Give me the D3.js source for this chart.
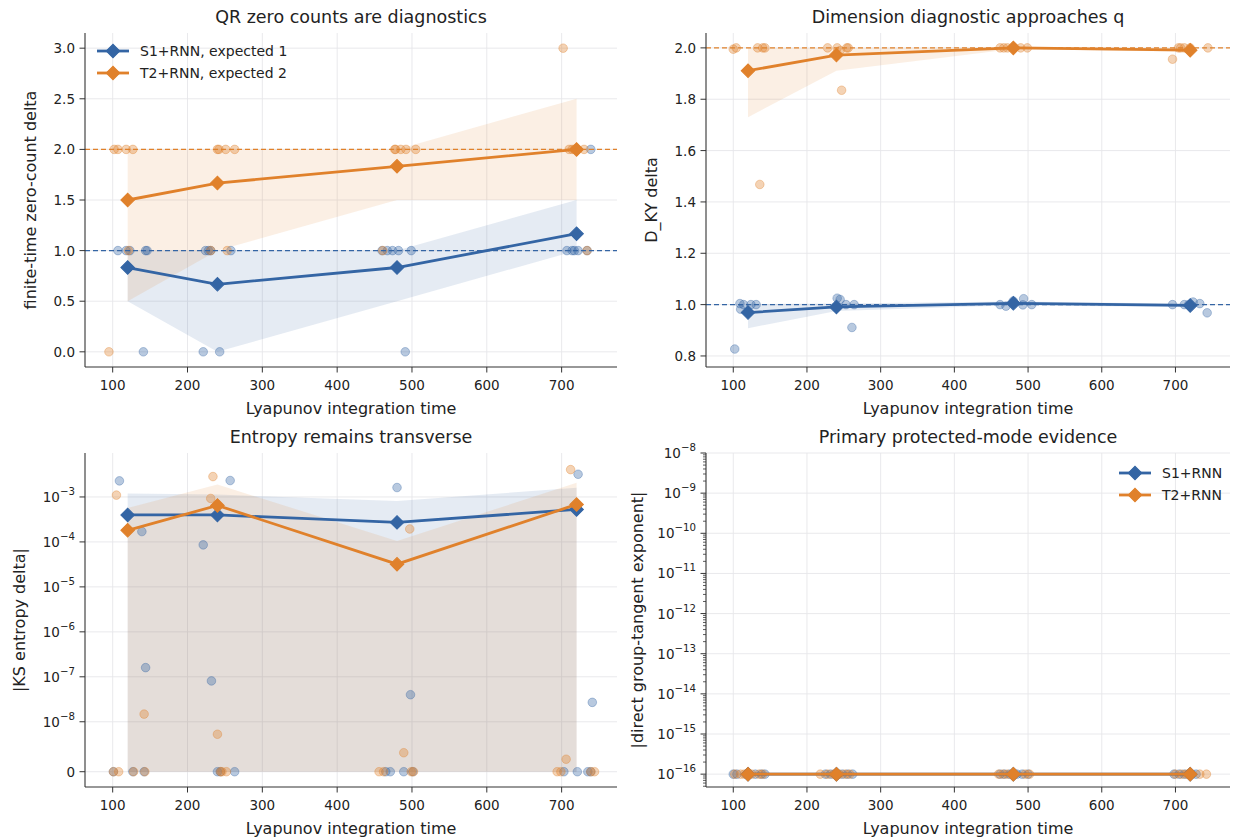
<!DOCTYPE html>
<html>
<head>
<meta charset="utf-8">
<script src="https://cdn.jsdelivr.net/npm/d3@7"></script>
<style>
  body { margin: 0; background: #fff; }
  text { font-family: "DejaVu Sans", sans-serif; fill: #222; }
</style>
</head>
<body>
<div id="chart"></div>
<script>
//---------------- data ----------------//
var T = [120, 240, 480, 720];
var xTicks = [100, 200, 300, 400, 500, 600, 700];

// QR zero counts
var qrS1Mean = [0.833, 0.667, 0.833, 1.167];
var qrS1Lo = [0.5, 0.0, 0.5, 1.0];
var qrS1Hi = [1.0, 1.0, 1.0, 1.5];
var qrT2Mean = [1.5, 1.667, 1.833, 2.0];
var qrT2Lo = [0.5, 1.0, 1.5, 1.5];
var qrT2Hi = [2.0, 2.0, 2.0, 2.5];
var qrS1X = [107, 118, 123, 141, 144, 146, 221, 224, 228, 231, 243, 258, 460, 467, 474, 482, 491, 499, 707, 714, 717, 722, 734, 739];
var qrS1Y = [1, 1, 1, 0, 1, 1, 0, 1, 1, 1, 0, 1, 1, 1, 1, 1, 0, 1, 1, 1, 1, 1, 1, 2];
var qrT2X = [95, 102, 107, 118, 121, 127, 231, 240, 242, 251, 253, 263, 461, 477, 478, 485, 492, 505, 702, 710, 714, 717, 730, 734];
var qrT2Y = [0, 2, 2, 2, 1, 2, 1, 2, 2, 2, 1, 2, 1, 2, 2, 2, 2, 2, 3, 2, 2, 2, 2, 1];

// D_KY
var dkyS1Mean = [0.969, 0.991, 1.005, 0.997];
var dkyS1Lo = [0.908, 0.975, 0.998, 0.99];
var dkyS1Hi = [1.002, 1.004, 1.012, 1.003];
var dkyT2Mean = [1.911, 1.972, 2.0, 1.991];
var dkyT2Lo = [1.730, 1.911, 1.996, 1.985];
var dkyT2Hi = [2.0, 2.0, 2.002, 2.0];
var dkyS1X = [102, 109, 110, 114, 124, 131, 239, 241, 245, 253, 261, 264, 462, 470, 480, 493, 494, 505, 696, 712, 718, 724, 733, 743];
var dkyS1Y = [0.827, 1.004, 0.982, 1.0, 1.0, 1.0, 0.99, 1.025, 1.02, 1.0, 0.911, 1.0, 1.0, 0.994, 1.014, 0.999, 1.023, 1.0, 1.0, 1.0, 1.0, 1.01, 1.004, 0.968];
var dkyT2X = [100, 104, 133, 136, 140, 143, 228, 241, 245, 247, 254, 256, 462, 467, 472, 481, 490, 499, 696, 704, 707, 712, 720, 744];
var dkyT2Y = [1.995, 2.0, 2.0, 1.468, 2.0, 2.0, 2.0, 2.0, 1.99, 1.835, 2.0, 2.0, 2.0, 2.0, 2.0, 2.0, 2.0, 2.0, 1.956, 2.0, 2.0, 2.0, 2.0, 2.0];

// KS entropy
var ksS1Mean = [3.98e-4, 3.98e-4, 2.72e-4, 5.28e-4];
var ksS1Lo = [0, 0, 0, 0];
var ksS1Hi = [1.19e-3, 1.13e-3, 8.1e-4, 1.6e-3];
var ksT2Mean = [1.81e-4, 6.49e-4, 3.2e-5, 6.82e-4];
var ksT2Lo = [0, 0, 0, 0];
var ksT2Hi = [5.7e-4, 1.89e-3, 1.05e-4, 2.06e-3];
var ksS1X = [101, 109, 127, 139, 142, 144, 221, 232, 240, 244, 257, 263, 465, 471, 480, 489, 498, 501, 703, 721, 722, 735, 739, 741];
var ksS1Y = [0, 2.28e-3, 0, 1.7e-4, 0, 1.6e-7, 8.6e-5, 8.1e-8, 0, 0, 2.32e-3, 0, 0, 0, 1.62e-3, 0, 4e-8, 0, 0, 0, 3.2e-3, 0, 0, 2.7e-8];
var ksT2X = [101, 105, 108, 128, 142, 143, 231, 234, 240, 244, 246, 252, 456, 462, 489, 497, 499, 502, 694, 699, 706, 712, 739, 744];
var ksT2Y = [0, 1.1e-3, 0, 0, 1.48e-8, 0, 9.27e-4, 2.84e-3, 7.5e-9, 0, 0, 0, 0, 0, 3.8e-9, 1.94e-4, 0, 0, 0, 0, 2.5e-9, 4.06e-3, 0, 0];

// protected mode exponent
var pmS1Mean = [1e-16, 1e-16, 1e-16, 1e-16];
var pmT2Mean = [1e-16, 1e-16, 1e-16, 1e-16];
var pmS1X = [100, 105, 118, 130, 138, 143, 225, 232, 240, 248, 255, 262, 462, 468, 475, 485, 492, 500, 698, 705, 712, 718, 722, 728];
var pmT2X = [102, 110, 115, 125, 135, 140, 218, 228, 236, 244, 252, 258, 460, 466, 472, 480, 496, 502, 700, 708, 715, 720, 733, 742];
var pmY = 1e-16;

var blue = '#3465a4', orange = '#e0812b';
var gridColor = '#e6e6ea';

//---------------- svg ----------------//
var svg = d3.select('#chart').append('svg')
            .attr('width', 1238)
            .attr('height', 840);

var xDomain = [63, 774];
var clipId = 0;

function diamond(sel, color) {
  sel.attr('d', d3.symbol(d3.symbolSquare, 92)())
     .attr('fill', color)
     .attr('stroke', color)
     .attr('stroke-width', 1);
}

function supLabel(t, base, exp) {
  t.append('tspan').text(base);
  t.append('tspan').attr('dy', -7).attr('font-size', '10.2px').text(exp);
}

function drawPanel(o) {
  var g = svg.append('g');
  var x = d3.scaleLinear().domain(xDomain).range([o.x0, o.x1]);
  var y = o.y;

  clipId++;
  g.append('clipPath').attr('id', 'c' + clipId).append('rect')
   .attr('x', o.x0).attr('y', o.y0).attr('width', o.x1 - o.x0).attr('height', o.y1 - o.y0);

  // grid
  g.selectAll('.gx').data(xTicks).enter().append('line')
   .attr('x1', d => x(d)).attr('x2', d => x(d))
   .attr('y1', o.y0).attr('y2', o.y1)
   .attr('stroke', gridColor).attr('stroke-width', 0.9);
  g.selectAll('.gy').data(o.yTicks).enter().append('line')
   .attr('x1', o.x0).attr('x2', o.x1)
   .attr('y1', d => y(d)).attr('y2', d => y(d))
   .attr('stroke', gridColor).attr('stroke-width', 0.9);

  var plot = g.append('g').attr('clip-path', 'url(#c' + clipId + ')');

  // bands
  o.series.forEach(function(s) {
    if (!s.lo) return;
    var area = d3.area()
      .x((d, i) => x(T[i]))
      .y0((d, i) => y(s.lo[i]))
      .y1((d, i) => y(s.hi[i]));
    plot.append('path').datum(T).attr('d', area)
      .attr('fill', s.color).attr('fill-opacity', 0.13);
  });

  // points
  o.series.forEach(function(s) {
    plot.selectAll(null).data(s.px).enter().append('circle')
      .attr('cx', d => x(d))
      .attr('cy', (d, i) => y(s.py[i]))
      .attr('r', 4.3)
      .attr('fill', s.color).attr('fill-opacity', 0.35)
      .attr('stroke', s.color).attr('stroke-opacity', 0.35).attr('stroke-width', 1);
  });

  // reference lines
  (o.refs || []).forEach(function(r) {
    g.append('line')
      .attr('x1', o.x0).attr('x2', o.x1)
      .attr('y1', y(r.v)).attr('y2', y(r.v))
      .attr('stroke', r.color).attr('stroke-width', 1.3)
      .attr('stroke-dasharray', '5,3');
  });

  // mean lines
  o.series.forEach(function(s) {
    var line = d3.line().x((d, i) => x(T[i])).y(d => y(d));
    plot.append('path').datum(s.mean).attr('d', line)
      .attr('fill', 'none').attr('stroke', s.color).attr('stroke-width', 2.8);
    plot.selectAll(null).data(s.mean).enter().append('path')
      .attr('transform', (d, i) => 'translate(' + x(T[i]) + ',' + y(d) + ') rotate(45)')
      .call(diamond, s.color);
  });

  // spines
  g.append('line').attr('x1', o.x0).attr('x2', o.x0).attr('y1', o.y0).attr('y2', o.y1)
   .attr('stroke', '#333').attr('stroke-width', 1.1);
  g.append('line').attr('x1', o.x0).attr('x2', o.x1).attr('y1', o.y1).attr('y2', o.y1)
   .attr('stroke', '#333').attr('stroke-width', 1.1);

  // x ticks
  g.selectAll('.tx').data(xTicks).enter().append('line')
   .attr('x1', d => x(d)).attr('x2', d => x(d))
   .attr('y1', o.y1).attr('y2', o.y1 + 5.5)
   .attr('stroke', '#333');
  g.selectAll('.lx').data(xTicks).enter().append('text')
   .attr('x', d => x(d)).attr('y', o.y1 + 23)
   .attr('text-anchor', 'middle').attr('font-size', '13.5px')
   .text(d => d);

  // y ticks
  g.selectAll('.ty').data(o.yTicks).enter().append('line')
   .attr('x1', o.x0 - 5.5).attr('x2', o.x0)
   .attr('y1', d => y(d)).attr('y2', d => y(d))
   .attr('stroke', '#333');
  (o.minor || []).forEach(function(v) {
    g.append('line').attr('x1', o.x0 - 3).attr('x2', o.x0)
     .attr('y1', y(v)).attr('y2', y(v)).attr('stroke', '#333').attr('stroke-width', 0.8);
  });
  g.selectAll('.ly').data(o.yTicks).enter().append('text')
   .attr('x', o.x0 - 10).attr('y', d => y(d) + 5)
   .attr('text-anchor', 'end').attr('font-size', '13.5px')
   .each(function(d) { o.yFormat(d3.select(this), d); });

  // labels
  g.append('text').attr('x', (o.x0 + o.x1) / 2).attr('y', o.y0 - 10)
   .attr('text-anchor', 'middle').attr('font-size', '17.5px').text(o.title);
  g.append('text').attr('x', (o.x0 + o.x1) / 2).attr('y', o.y1 + 47)
   .attr('text-anchor', 'middle').attr('font-size', '16px').text('Lyapunov integration time');
  g.append('text')
   .attr('transform', 'translate(' + o.ylabX + ',' + ((o.y0 + o.y1) / 2) + ') rotate(-90)')
   .attr('text-anchor', 'middle').attr('font-size', '16px').text(o.ylabel);

  // legend
  if (o.legend) {
    var lg = g.append('g');
    o.series.forEach(function(s, i) {
      var ly = o.legend.y + i * 22;
      var hx = o.legend.x;
      lg.append('line').attr('x1', hx).attr('x2', hx + 32).attr('y1', ly).attr('y2', ly)
        .attr('stroke', s.color).attr('stroke-width', 2.8);
      lg.append('path').attr('transform', 'translate(' + (hx + 16) + ',' + ly + ') rotate(45)')
        .call(diamond, s.color);
      lg.append('text').attr('x', hx + 43).attr('y', ly + 5)
        .attr('font-size', '14px').text(o.legend.names[i]);
    });
  }
}

function fixed1(t, d) { t.text(d3.format('.1f')(d)); }

//---------------- panel 1 ----------------//
drawPanel({
  x0: 85, x1: 617, y0: 33, y1: 367,
  y: d3.scaleLinear().domain([-0.15, 3.15]).range([367, 33]),
  yTicks: [0, 0.5, 1, 1.5, 2, 2.5, 3],
  yFormat: fixed1,
  title: 'QR zero counts are diagnostics',
  ylabel: 'finite-time zero-count delta', ylabX: 36,
  refs: [{ v: 1, color: blue }, { v: 2, color: orange }],
  series: [
    { mean: qrS1Mean, lo: qrS1Lo, hi: qrS1Hi, px: qrS1X, py: qrS1Y, color: blue },
    { mean: qrT2Mean, lo: qrT2Lo, hi: qrT2Hi, px: qrT2X, py: qrT2Y, color: orange }
  ],
  legend: { x: 97, y: 51, names: ['S1+RNN, expected 1', 'T2+RNN, expected 2'] }
});

//---------------- panel 2 ----------------//
drawPanel({
  x0: 706, x1: 1230, y0: 33, y1: 367,
  y: d3.scaleLinear().domain([0.757, 2.058]).range([367, 33]),
  yTicks: [0.8, 1.0, 1.2, 1.4, 1.6, 1.8, 2.0],
  yFormat: fixed1,
  title: 'Dimension diagnostic approaches q',
  ylabel: 'D_KY delta', ylabX: 657,
  refs: [{ v: 1, color: blue }, { v: 2, color: orange }],
  series: [
    { mean: dkyS1Mean, lo: dkyS1Lo, hi: dkyS1Hi, px: dkyS1X, py: dkyS1Y, color: blue },
    { mean: dkyT2Mean, lo: dkyT2Lo, hi: dkyT2Hi, px: dkyT2X, py: dkyT2Y, color: orange }
  ]
});

//---------------- panel 3 (symlog) ----------------//
var linthresh = 1e-8, linAdj = 1 / (1 - 0.1);
function symlog(v) {
  var a = Math.abs(v);
  if (a <= linthresh) return v / linthresh * linAdj;
  return Math.sign(v) * (linAdj + Math.log10(a / linthresh));
}
var ksScale = d3.scaleLinear().domain([symlog(-3.06e-9), symlog(9.5e-3)]).range([787, 453]);
drawPanel({
  x0: 85, x1: 617, y0: 453, y1: 787,
  y: v => ksScale(symlog(v)),
  yTicks: [0, 1e-8, 1e-7, 1e-6, 1e-5, 1e-4, 1e-3],
  yFormat: function(t, d) {
    if (d === 0) t.text('0');
    else supLabel(t, '10', '\u2212' + Math.round(-Math.log10(d)));
  },
  title: 'Entropy remains transverse',
  ylabel: '|KS entropy delta|', ylabX: 25,
  series: [
    { mean: ksS1Mean, lo: ksS1Lo, hi: ksS1Hi, px: ksS1X, py: ksS1Y, color: blue },
    { mean: ksT2Mean, lo: ksT2Lo, hi: ksT2Hi, px: ksT2X, py: ksT2Y, color: orange }
  ]
});

//---------------- panel 4 (log) ----------------//
var pmScale = d3.scaleLog().domain([Math.pow(10, -16.32), 1e-8]).range([787, 453]);
var pmTicks = d3.range(-16, -7).map(k => Math.pow(10, k));
var pmMinor = [];
d3.range(-17, -8).forEach(function(k) {
  for (var m = 2; m < 10; m++) {
    var v = m * Math.pow(10, k);
    if (v > pmScale.domain()[0] && v < 1e-8) pmMinor.push(v);
  }
});
drawPanel({
  x0: 706, x1: 1230, y0: 453, y1: 787,
  y: pmScale,
  yTicks: pmTicks,
  minor: pmMinor,
  yFormat: function(t, d) { supLabel(t, '10', '\u2212' + Math.round(-Math.log10(d))); },
  title: 'Primary protected-mode evidence',
  ylabel: '|direct group-tangent exponent|', ylabX: 643,
  series: [
    { mean: pmS1Mean, px: pmS1X, py: pmS1X.map(() => pmY), color: blue },
    { mean: pmT2Mean, px: pmT2X, py: pmT2X.map(() => pmY), color: orange }
  ],
  legend: { x: 1119, y: 473, names: ['S1+RNN', 'T2+RNN'] }
});
</script>
</body>
</html>
